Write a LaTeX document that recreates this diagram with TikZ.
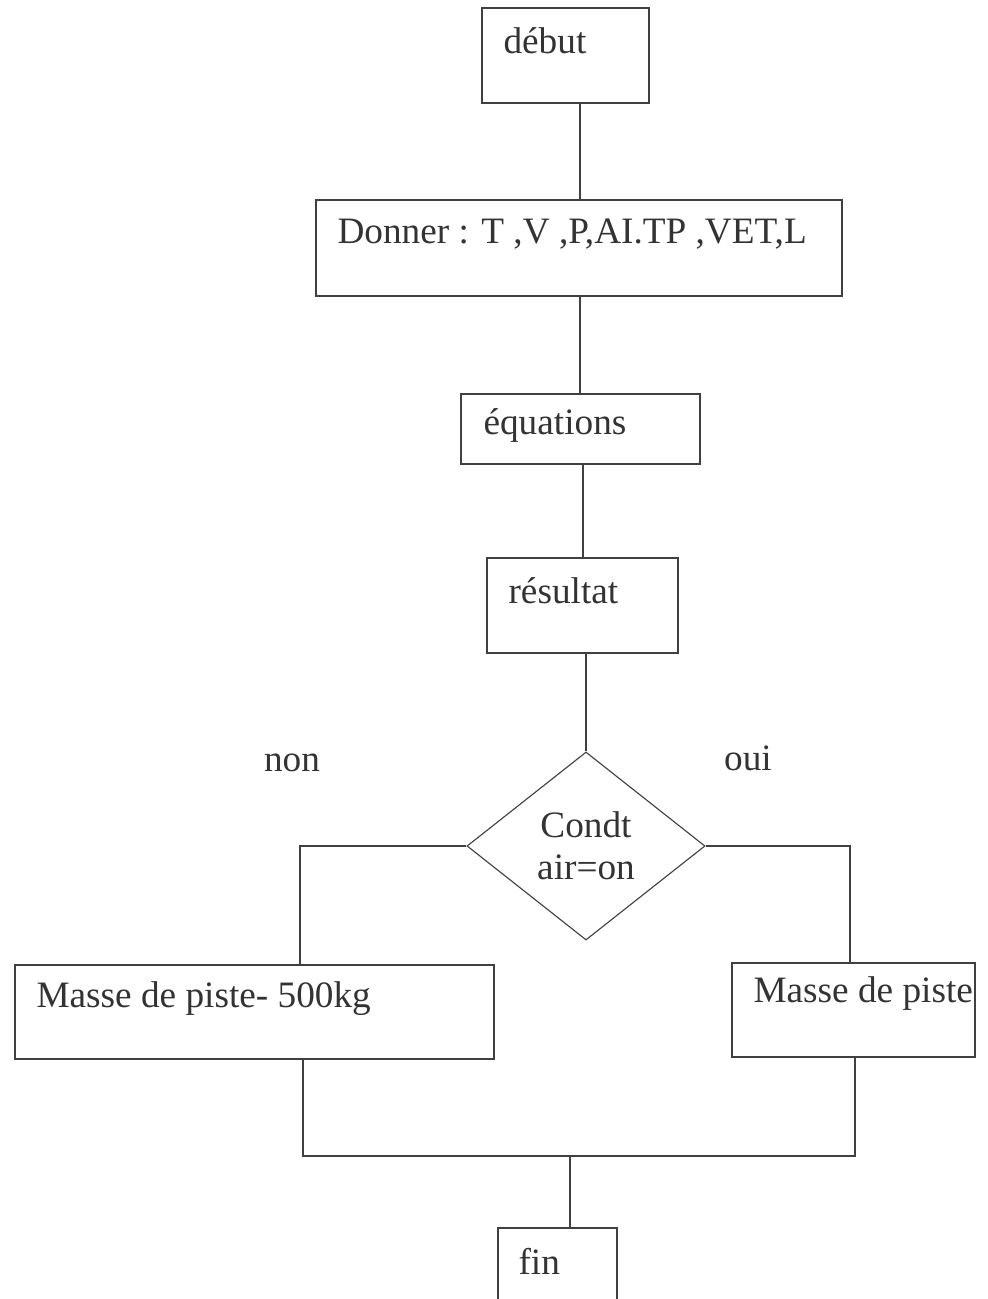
\documentclass[tikz,border=0pt]{standalone}
\usepackage{fontspec}
\setmainfont{Liberation Serif}
\usetikzlibrary{shapes.geometric, fit, calc}
\tikzset{
    every path/.style={line width=0.8pt}, % thin strokes like the scan
    box/.style={draw, rectangle, inner sep=0pt, line width=0.8pt},
    txt/.style={anchor=west, inner sep=0pt, text=black!80, font=\fontsize{26.5}{31}\selectfont},
}

\begin{document}
\begin{tikzpicture}[x=0.025cm, y=-0.025cm, color=black!75]
    \useasboundingbox (0,0) rectangle (987,1299);

    % boxes
    \node[box, fit={(482,8) (649,103)}] (debut) {};
    \node[box, fit={(316,200) (842,296)}] (donner) {};
    \node[box, fit={(461,394) (700,464)}] (equations) {};
    \node[box, fit={(487,558) (678,653)}] (resultat) {};
    \node[draw, diamond, line width=0.8pt, minimum width=5.95cm, minimum height=4.7cm, inner sep=0pt,
          align=center, text=black!80, font=\fontsize{26.5}{30}\selectfont] (cond) at (586,846) {Condt\\air=on};
    \node[box, fit={(15,965) (494,1059)}] (gauche) {};
    \node[box, fit={(732,963) (975,1057)}] (droite) {};
    \node[box, fit={(498,1228) (617,1320)}] (fin) {};

    % texts
    \node[txt] (tDebut) at (503,41) {début};
    \node[txt] (tDonner) at (337,234) {Donner : T ,V ,P,AI.TP ,VET,L};
    \node[txt] (tEquations) at (483,426) {équations};
    \node[txt] (tResultat) at (508,591) {résultat};
    \node[txt] (tGauche) at (36,999) {Masse de piste- 500kg};
    \node[txt] (tDroite) at (753,994) {Masse de piste};
    \node[txt] (tFin) at (518,1261) {fin};
    \node[txt, anchor=center] (non) at (292,763) {non};
    \node[txt, anchor=center] (oui) at (748,758) {oui};

    % connectors
    \coordinate (xa) at (580,0);
    \coordinate (xb) at (583,0);
    \coordinate (xl) at (300,0);
    \coordinate (xr) at (850,0);
    \coordinate (bl) at (303,0);
    \coordinate (br) at (855,0);
    \coordinate (merge) at (570,1156);

    \draw (debut.south -| xa) -- (donner.north -| xa);
    \draw (donner.south -| xa) -- (equations.north -| xa);
    \draw (equations.south -| xb) -- (resultat.north -| xb);
    \draw (cond.north |- resultat.south) -- (cond.north);
    \draw (cond.west) -| (xl |- gauche.north);
    \draw (cond.east) -| (xr |- droite.north);
    \draw (bl |- gauche.south) -- (bl |- merge) -- (br |- merge) -- (br |- droite.south);
    \draw (merge) -- (merge |- fin.north);
\end{tikzpicture}
\end{document}
